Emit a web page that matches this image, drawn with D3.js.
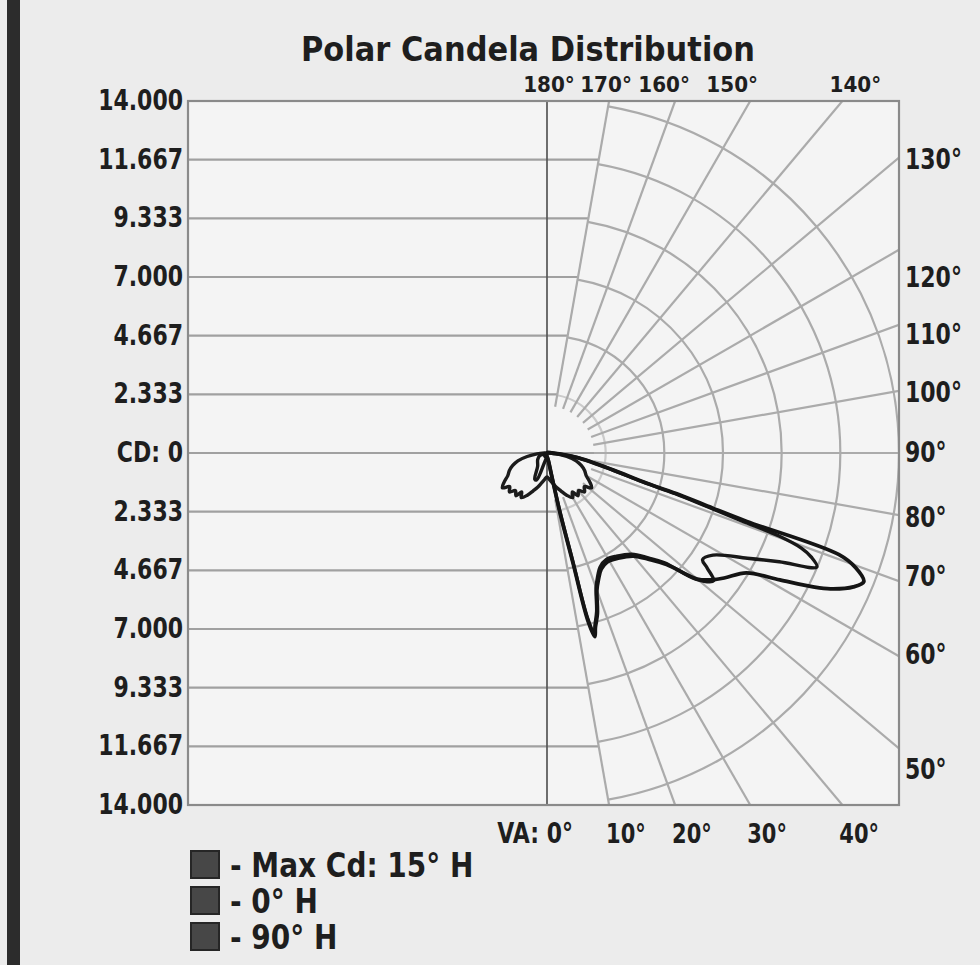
<!DOCTYPE html>
<html>
<head>
<meta charset="utf-8">
<script src="https://cdn.jsdelivr.net/npm/d3@7"></script>
<style>
  body { margin: 0; background: #ececec; }
  svg { display: block; }
  text { font-family: "DejaVu Sans", Verdana, sans-serif; font-weight: bold; fill: #1e1e1e; }
</style>
</head>
<body>
<svg id="chart" width="980" height="965"></svg>
<script>
// candela scale ticks (left side)
const cdTicks = [0, 2333.33, 4666.67, 7000, 9333.33, 11666.67, 14000];
const cdLabels = ['CD: 0', '2.333', '4.667', '7.000', '9.333', '11.667', '14.000'];

// vertical angle labels round the polar half
const topAngles = [180, 170, 160, 150, 140];
const rightAngles = [130, 120, 110, 100, 90, 80, 70, 60, 50];
const bottomAngles = [0, 10, 20, 30, 40];
const gridAngles = d3.range(10, 171, 10);

// Max Cd: 15° H  (vertical angle in degrees, candela)
const maxAngles = [-90, -60, -30, -10, 0, 5, 10, 11.5, 12.3, 13.3, 13.7, 14.6, 15.5, 17.4, 20, 22, 25, 29, 34, 40,
  44, 47, 50, 52.6, 55, 59, 61.4, 63.3, 64.4, 66.4, 67.9, 69.6, 70.8, 71.1, 71.6, 72.5, 73.1, 75.6, 81, 85, 90, 120, 180];
const maxCd = [0, 100, 150, 150, 150, 200, 300, 900, 2450, 4500, 6850, 7550, 7200, 6700, 5800, 5450, 5100, 4950, 5050, 5350,
  5900, 6500, 7800, 8300, 8650, 9250, 10550, 11850, 12500, 13300, 13600, 13100, 12300, 8400, 6950, 5550, 4150, 2700, 1300, 600, 200, 50, 0];

// 0° H
const h0Angles = [-90, -70, -55, -35, -25, -21, -15, -8, 0, 5, 10, 11.6, 12.4, 13.4, 13.8, 14.7, 15.6, 17.4, 20, 22,
  25, 29, 34, 40, 44, 47, 49.7, 52.5, 54.3, 55.6, 58.4, 62.3, 64.9, 67.1, 68.5, 69.5, 70.3, 70.8, 71.5, 72.4,
  73.2, 75.8, 81.5, 85, 90, 180];
const h0Cd = [0, 300, 450, 650, 1150, 1150, 400, 200, 100, 150, 250, 850, 2350, 4400, 6750, 7450, 7100, 6600, 5700, 5350,
  5000, 4850, 4950, 5250, 5800, 6400, 7750, 8350, 7850, 7500, 7750, 9000, 10200, 11650, 11300, 10800, 9800, 8200, 6700, 5350,
  3950, 2600, 1200, 550, 150, 0];

// 90° H, symmetric about nadir: one half is listed
const h90Angles = [0, 5, 10, 15, 20, 25, 30, 33, 36, 40, 44, 48, 52, 56, 60, 65, 70, 75, 80, 85, 90];
const h90Cd = [950, 1050, 1200, 1400, 1600, 1850, 2050, 1850, 2100, 1950, 2150, 2000, 2250, 2050, 1800, 1650, 1450, 1200, 800, 400, 100];

const legendItems = ['- Max Cd: 15° H', '- 0° H', '- 90° H'];

// layout
const cx = 547, cy = 453, R = 352;
const x0 = 188, x1 = 899, y0 = cy - R, y1 = cy + R;
const rad = Math.PI / 180;

const svg = d3.select('#chart');
const r = d3.scaleLinear().domain([0, 14000]).range([0, R]);

function label(x, y, txt, size, anchor, stretch) {
  return svg.append('text')
    .attr('transform', `translate(${x},${y}) scale(1,${stretch || 1.25})`)
    .attr('text-anchor', anchor || 'start')
    .style('font-size', size + 'px')
    .text(txt);
}

// where a ray of vertical angle a (0 = down, 90 = right) meets the frame
function rayEnd(a) {
  const sx = Math.sin(a * rad), sy = Math.cos(a * rad);
  let t = (x1 - cx) / sx;
  if (Math.abs(sy) > 1e-6) t = Math.min(t, sy > 0 ? (y1 - cy) / sy : (y0 - cy) / sy);
  return [cx + sx * t, cy + sy * t];
}

svg.append('rect').attr('width', 980).attr('height', 965).attr('fill', '#ececec');
svg.append('rect').attr('x', 7).attr('y', 0).attr('width', 13).attr('height', 965).attr('fill', '#2c2c2c');

svg.append('rect')
  .attr('x', x0).attr('y', y0).attr('width', x1 - x0).attr('height', y1 - y0)
  .attr('fill', '#f4f4f4');

svg.append('clipPath').attr('id', 'plotclip')
  .append('rect').attr('x', x0).attr('y', y0).attr('width', x1 - x0).attr('height', y1 - y0);

const grid = svg.append('g').attr('clip-path', 'url(#plotclip)');

// horizontal candela lines on the left half, running to the 10°/170° rays
cdTicks.slice(1).forEach(v => {
  [-1, 1].forEach(s => {
    grid.append('line')
      .attr('x1', x0).attr('x2', cx + r(v) * Math.tan(10 * rad))
      .attr('y1', cy + s * r(v)).attr('y2', cy + s * r(v))
      .attr('stroke', '#a0a0a0').attr('stroke-width', 2.2);
  });
});
grid.append('line')
  .attr('x1', x0).attr('x2', x1).attr('y1', cy).attr('y2', cy)
  .attr('stroke', '#a0a0a0').attr('stroke-width', 2.2);

// polar circles, 10° to 170°
cdTicks.slice(1).forEach((v, i) => {
  const p = d3.path();
  p.arc(cx, cy, r(v), -80 * rad, 80 * rad, false);
  grid.append('path').attr('d', p.toString())
    .attr('fill', 'none')
    .attr('stroke', i === 0 ? '#cbcbcb' : '#ababab')
    .attr('stroke-width', 2.2);
});

// polar rays
gridAngles.forEach(a => {
  const e = rayEnd(a);
  const s = r(cdTicks[1]) * 0.8;
  grid.append('line')
    .attr('x1', cx + s * Math.sin(a * rad)).attr('y1', cy + s * Math.cos(a * rad))
    .attr('x2', e[0]).attr('y2', e[1])
    .attr('stroke', '#ababab').attr('stroke-width', 2.2);
});

// nadir / zenith line
grid.append('line')
  .attr('x1', cx).attr('x2', cx).attr('y1', y0).attr('y2', y1)
  .attr('stroke', '#555').attr('stroke-width', 1.7);

svg.append('rect')
  .attr('x', x0).attr('y', y0).attr('width', x1 - x0).attr('height', y1 - y0)
  .attr('fill', 'none').attr('stroke', '#8a8a8a').attr('stroke-width', 2.2);

// curves
const line = d3.lineRadial()
  .angle(d => Math.PI - d[0] * rad)
  .radius(d => r(d[1]))
  .curve(d3.curveCatmullRom.alpha(0.5));

const curves = svg.append('g').attr('transform', `translate(${cx},${cy})`)
  .attr('fill', 'none').attr('stroke-linejoin', 'round').attr('stroke-linecap', 'round');

const h90Full = h90Angles.slice().reverse().map((a, i) => [-a, h90Cd[h90Angles.length - 1 - i]])
  .concat(h90Angles.slice(1).map((a, i) => [a, h90Cd[i + 1]]));

curves.append('path').datum(h90Full).attr('d', line)
  .attr('stroke', '#1c1c1c').attr('stroke-width', 3.4);
curves.append('path').datum(d3.zip(h0Angles, h0Cd)).attr('d', line)
  .attr('stroke', '#181818').attr('stroke-width', 3.4);
curves.append('path').datum(d3.zip(maxAngles, maxCd)).attr('d', line)
  .attr('stroke', '#141414').attr('stroke-width', 3.8);

// title
label(528, 61, 'Polar Candela Distribution', 30.5, 'middle', 1.12);

// left candela labels
cdTicks.forEach((v, i) => {
  label(183, cy - r(v) + 9, cdLabels[i], 22, 'end');
  if (i > 0) label(183, cy + r(v) + 9, cdLabels[i], 22, 'end');
});

// angle labels
const topNudge = { 180: 2, 170: -3, 160: -11, 150: -18, 140: 13 };
topAngles.forEach(a => {
  const e = rayEnd(a);
  label(e[0] + topNudge[a], 92, a + '°', 20, 'middle', 1.1);
});
const rightNudge = { 130: 2, 120: 28, 110: 10, 100: 2, 90: 0, 80: 3, 70: -4, 60: -1, 50: 22 };
rightAngles.forEach(a => {
  const e = rayEnd(a);
  label(905, e[1] + rightNudge[a] + 9, a + '°', 22, 'start');
});
bottomAngles.forEach(a => {
  const e = rayEnd(a);
  if (a === 0) label(573, 843, 'VA: 0°', 22, 'end');
  else label(e[0] - 3, 843, a + '°', 21, 'start');
});

// legend
legendItems.forEach((t, i) => {
  const y = 851 + i * 36;
  svg.append('rect').attr('x', 191).attr('y', y).attr('width', 28).attr('height', 27)
    .attr('fill', '#474747').attr('stroke', '#262626').attr('stroke-width', 2);
  label(230, y + 26, t, 28, 'start', 1.2);
});
</script>
</body>
</html>
